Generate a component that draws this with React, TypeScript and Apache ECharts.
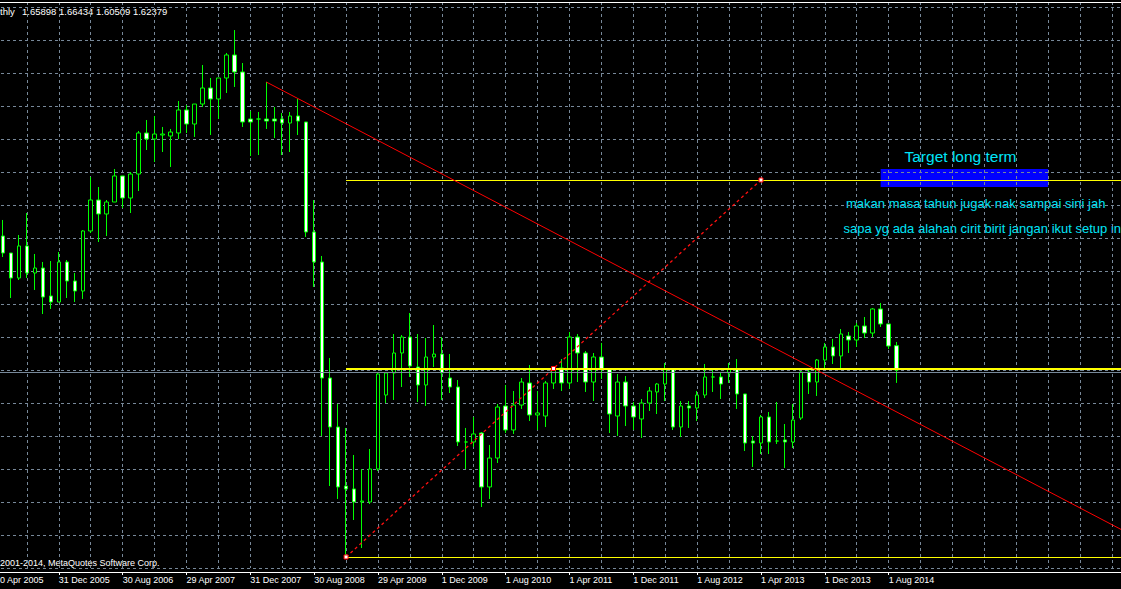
import React, { useEffect, useRef } from "react";
import * as echarts from "echarts";

// ---------- categories (monthly bars), first category is Apr 2005 ----------
const FIRST_YEAR = 2005;
const FIRST_MONTH = 4;
const CATEGORY_COUNT = 143;
const MONTHS: string[] = [];
for (let j = 0; j < CATEGORY_COUNT; j++) {
  const m = FIRST_MONTH - 1 + j;
  const y = FIRST_YEAR + Math.floor(m / 12);
  const mm = (m % 12) + 1;
  MONTHS.push(`${y}-${mm < 10 ? "0" + mm : mm}`);
}

// x-axis labels, one every 8 bars (from the first category)
const TICK_LABELS = [
  "30 Apr 2005", "31 Dec 2005", "30 Aug 2006", "29 Apr 2007", "31 Dec 2007",
  "30 Aug 2008", "29 Apr 2009", "1 Dec 2009", "1 Aug 2010", "1 Apr 2011",
  "1 Dec 2011", "1 Aug 2012", "1 Apr 2013", "1 Dec 2013", "1 Aug 2014",
];

// ---------- GBPUSD monthly candles: May 2005 .. Sep 2014 ----------
const OPEN = [
  1.8177, 1.7931, 1.7569, 1.8033, 1.7642, 1.7714, 1.7309, 1.7222, 1.7801, 1.7526,
  1.7381, 1.8250, 1.8698, 1.8496, 1.8669, 1.9046, 1.8727, 1.9074, 1.9668, 1.9581,
  1.9639, 1.9624, 1.9668, 2.0001, 1.9798, 2.0087, 2.0319, 2.0160, 2.0464, 2.0797,
  2.0551, 1.9870, 1.9870, 1.9870, 1.9870, 1.9870, 1.9812, 1.9914, 1.9827, 1.8235,
  1.7801, 1.6122, 1.5413, 1.4559, 1.4516, 1.4328, 1.4328, 1.4805, 1.5876, 1.6195,
  1.6484, 1.6715, 1.6281, 1.6021, 1.6426, 1.6469, 1.6122, 1.5992, 1.5196, 1.5196,
  1.5326, 1.4545, 1.4964, 1.5717, 1.5370, 1.5731, 1.6050, 1.5587, 1.5572, 1.6050,
  1.6267, 1.6050, 1.6715, 1.6484, 1.6064, 1.6426, 1.6252, 1.5572, 1.6064, 1.5717,
  1.5529, 1.5760, 1.5920, 1.6035, 1.6252, 1.5413, 1.5717, 1.5688, 1.5876, 1.6137,
  1.6137, 1.6195, 1.6252, 1.5891, 1.5210, 1.5181, 1.5558, 1.5210, 1.5225, 1.5196,
  1.5543, 1.6209, 1.6064, 1.6383, 1.6571, 1.6441, 1.6730, 1.6672, 1.6875, 1.6773,
  1.7121, 1.6904, 1.65898,
];
const CLOSE = [
  1.7931, 1.7569, 1.8033, 1.7642, 1.7714, 1.7294, 1.7222, 1.7801, 1.7526, 1.7381,
  1.8250, 1.8698, 1.8496, 1.8669, 1.9046, 1.8727, 1.9074, 1.9668, 1.9581, 1.9653,
  1.9653, 1.9682, 2.0001, 1.9798, 2.0087, 2.0319, 2.0160, 2.0464, 2.0797, 2.0551,
  1.9827, 1.9827, 1.9870, 1.9841, 1.9841, 1.9812, 1.9914, 1.9841, 1.8235, 1.7801,
  1.6122, 1.5413, 1.4545, 1.4516, 1.4328, 1.4342, 1.4805, 1.6180, 1.6195, 1.6484,
  1.6715, 1.6296, 1.6021, 1.6426, 1.6469, 1.6195, 1.5992, 1.5196, 1.5196, 1.5312,
  1.4545, 1.4964, 1.5702, 1.5370, 1.5731, 1.6064, 1.5587, 1.5616, 1.6050, 1.6238,
  1.6050, 1.6715, 1.6484, 1.6064, 1.6426, 1.6252, 1.5601, 1.6064, 1.5717, 1.5558,
  1.5760, 1.5934, 1.6035, 1.6252, 1.5413, 1.5717, 1.5688, 1.5876, 1.6137, 1.6137,
  1.6035, 1.6252, 1.5891, 1.5181, 1.5181, 1.5558, 1.5196, 1.5210, 1.5196, 1.5514,
  1.6209, 1.6064, 1.6383, 1.6571, 1.6441, 1.6759, 1.6672, 1.6875, 1.6773, 1.7121,
  1.6904, 1.6585, 1.62379,
];
const LOW = [
  1.7873, 1.7280, 1.7540, 1.7569, 1.7396, 1.7048, 1.7121, 1.7222, 1.7280, 1.7222,
  1.7265, 1.8221, 1.8090, 1.8177, 1.8669, 1.8582, 1.8510, 1.8828, 1.9422, 1.9248,
  1.9393, 1.9176, 1.9581, 1.9668, 1.9610, 2.0044, 1.9639, 1.9870, 2.0247, 2.0334,
  1.9755, 1.9335, 1.9349, 1.9726, 1.9595, 1.9349, 1.9393, 1.9639, 1.8163, 1.7439,
  1.5283, 1.4559, 1.4371, 1.3532, 1.4067, 1.3662, 1.4299, 1.4776, 1.5760, 1.5804,
  1.5992, 1.6137, 1.5775, 1.5717, 1.6281, 1.5804, 1.5905, 1.5138, 1.4805, 1.5124,
  1.4255, 1.4371, 1.4892, 1.5326, 1.5312, 1.5674, 1.5500, 1.5370, 1.5413, 1.5963,
  1.5934, 1.5963, 1.6064, 1.5920, 1.5789, 1.6108, 1.5326, 1.5283, 1.5427, 1.5370,
  1.5254, 1.5645, 1.5601, 1.5789, 1.5370, 1.5268, 1.5399, 1.5500, 1.5833, 1.5920,
  1.5818, 1.6050, 1.5674, 1.5066, 1.4834, 1.5022, 1.5022, 1.5167, 1.4820, 1.5109,
  1.5514, 1.5891, 1.5862, 1.6238, 1.6325, 1.6252, 1.6484, 1.6571, 1.6701, 1.6715,
  1.6860, 1.6542, 1.60509,
];
const HIGH = [
  1.8409, 1.7931, 1.8192, 1.8510, 1.7917, 1.7801, 1.7815, 1.7946, 1.7830, 1.7642,
  1.8264, 1.9031, 1.8886, 1.8698, 1.9147, 1.9046, 1.9103, 1.9697, 1.9856, 1.9914,
  1.9755, 1.9726, 2.0131, 2.0073, 2.0087, 2.0652, 2.0464, 2.0464, 2.0826, 2.1158,
  2.0681, 1.9986, 1.9972, 2.0406, 2.0044, 1.9957, 1.9972, 2.0160, 1.9827, 1.8698,
  1.7888, 1.6412, 1.5746, 1.5399, 1.5008, 1.4805, 1.5095, 1.6195, 1.6209, 1.6759,
  1.6744, 1.7063, 1.6759, 1.6701, 1.6889, 1.6715, 1.6469, 1.6093, 1.5399, 1.5558,
  1.5341, 1.5153, 1.5746, 1.6021, 1.5934, 1.6122, 1.6310, 1.5934, 1.6079, 1.6296,
  1.6397, 1.6788, 1.6759, 1.6513, 1.6484, 1.6629, 1.6252, 1.6180, 1.6151, 1.5775,
  1.5818, 1.5992, 1.6050, 1.6339, 1.6252, 1.5789, 1.5789, 1.5934, 1.6325, 1.6238,
  1.6195, 1.6339, 1.6397, 1.5891, 1.5283, 1.5587, 1.5630, 1.5775, 1.5456, 1.5746,
  1.6223, 1.6267, 1.6397, 1.6629, 1.6687, 1.6831, 1.6788, 1.6918, 1.7005, 1.7135,
  1.7208, 1.6904, 1.66434,
];
const CANDLE_MONTHS = MONTHS.slice(1, 1 + OPEN.length);

// ---------- drawn objects ----------
const BID_PRICE = 1.62379;
const DOWN_TREND: [string, number][] = [["2008-02", 2.0406], ["2017-02", 1.3878]];
const UP_TREND: [string, number][] = [["2008-12", 1.3532], ["2013-04", 1.8988]];
const UP_TREND_ANCHORS: [string, number][] = [["2008-12", 1.3532], ["2011-02", 1.626], ["2013-04", 1.8988]];
const LEVEL_START = "2008-12";
const LEVEL_END = "2017-02";
const LEVELS = [1.8988, 1.6262, 1.3532];
const LEVEL_WIDTHS = [1, 2, 1];
const TARGET_ZONE: [string, number][] = [["2014-07", 1.9147], ["2016-04", 1.8886]];

// price axis: 33 px per grid step
const Y_STEP = BID_PRICE / 34;
const Y_MIN = Y_STEP * 28;
const Y_MAX = Y_STEP * (28 + 566 / 33);

const GRID_COLOR = "#778899";
const CANDLE_GREEN = "#00ff00";
const CYAN = "#00e4f8";
const FONT = '"Liberation Sans", Arial, sans-serif';

// the chart's box starts 8px left of the page (the first category sits off-screen)
const SHIFT = 8;
const CHART_W = 1137;
const CHART_H = 589;

export default function App() {
  const ref = useRef<HTMLDivElement>(null);

  useEffect(() => {
    document.documentElement.style.overflow = "hidden";
    document.body.style.margin = "0";
    document.body.style.overflow = "hidden";
    document.body.style.background = "#000";
    if (!ref.current) return;
    const chart = echarts.init(ref.current, undefined, { renderer: "svg" });

    const labelShown = (idx: number) => idx % 8 === 0 && idx / 8 < TICK_LABELS.length;

    const candleData = CANDLE_MONTHS.map((m, i) => [m, OPEN[i], CLOSE[i], LOW[i], HIGH[i]]);

    const levelLines = LEVELS.map((v, k) => [
      { coord: [LEVEL_START, v], lineStyle: { color: "#ffff00", width: LEVEL_WIDTHS[k], type: "solid" } },
      { coord: [LEVEL_END, v] },
    ]);

    const txt = (text: string, x: number, y: number, size: number, fill: string, align = "left") => ({
      type: "text",
      x: x + SHIFT,
      y,
      style: { text, fill, fontSize: size, fontFamily: FONT, align, verticalAlign: "middle" },
    });

    const option: any = {
      animation: false,
      backgroundColor: "#000000",
      grid: { left: 0, right: 1, top: 2, bottom: 21, containLabel: false },
      xAxis: [
        {
          type: "category",
          data: MONTHS,
          boundaryGap: false,
          offset: 4,
          z: 1,
          axisLine: { show: true, lineStyle: { color: "#ffffff", width: 1 } },
          axisTick: { show: true, interval: labelShown, length: 3, lineStyle: { color: "#ffffff" } },
          axisLabel: {
            show: true,
            interval: labelShown,
            formatter: (_v: string, idx: number) => TICK_LABELS[idx / 8] ?? "",
            color: "#ffffff",
            fontSize: 9,
            fontFamily: FONT,
            align: "left",
            margin: 3,
          },
          splitLine: {
            show: true,
            interval: (idx: number) => idx % 4 === 0,
            lineStyle: { color: GRID_COLOR, type: [3, 3], width: 1 },
          },
        },
        {
          type: "category",
          data: MONTHS,
          boundaryGap: false,
          position: "top",
          z: 3,
          axisLine: { show: true, lineStyle: { color: "#ffffff", width: 1 } },
          axisTick: { show: false },
          axisLabel: { show: false },
          splitLine: { show: false },
        },
      ],
      yAxis: {
        type: "value",
        min: Y_MIN,
        max: Y_MAX,
        interval: Y_STEP,
        z: 1,
        axisLine: { show: false },
        axisTick: { show: false },
        axisLabel: { show: false },
        splitLine: { show: true, lineStyle: { color: GRID_COLOR, type: [3, 3], width: 1 } },
      },
      series: [
        {
          type: "candlestick",
          data: candleData,
          encode: { x: 0, y: [1, 2, 3, 4] },
          barWidth: 4,
          z: 2,
          itemStyle: {
            color: "#000000",
            color0: "#ffffff",
            borderColor: CANDLE_GREEN,
            borderColor0: CANDLE_GREEN,
            borderWidth: 1,
          },
          markArea: {
            z: 0,
            silent: true,
            itemStyle: { color: "#0000ff", opacity: 1 },
            label: { show: false },
            data: [[{ coord: TARGET_ZONE[0] }, { coord: TARGET_ZONE[1] }]],
          },
          markLine: {
            silent: true,
            symbol: ["none", "none"],
            label: { show: false },
            data: [
              { yAxis: BID_PRICE, lineStyle: { color: GRID_COLOR, width: 1, type: "solid" } },
              ...levelLines,
              [
                { coord: DOWN_TREND[0], lineStyle: { color: "#ff0000", width: 1, type: "solid" } },
                { coord: DOWN_TREND[1] },
              ],
              [
                { coord: UP_TREND[0], lineStyle: { color: "#ff1010", width: 1.3, type: [3, 3] } },
                { coord: UP_TREND[1] },
              ],
            ],
          },
        },
        {
          type: "scatter",
          data: UP_TREND_ANCHORS,
          symbol: "rect",
          symbolSize: 4,
          z: 6,
          itemStyle: { color: "#ffffff", borderColor: "#ff0000", borderWidth: 1, opacity: 1 },
          silent: true,
        },
      ],
      graphic: [
        txt("thly", 0, 11, 9.5, "#ffffff"),
        txt("1.65898 1.66434 1.60509 1.62379", 22, 11, 9.5, "#ffffff"),
        txt("2001-2014, MetaQuotes Software Corp.", 0, 563, 9, "#ffffff"),
        txt("Target long term", 960.5, 156, 15.5, CYAN, "center"),
        txt("makan masa tahun jugak nak sampai sini jah", 846, 203.5, 13, CYAN),
        txt("sapa yg ada alahan cirit birit jangan ikut setup ini", 843.5, 228, 13, CYAN),
      ],
    };

    chart.setOption(option);
    return () => chart.dispose();
  }, []);

  return (
    <div
      ref={ref}
      style={{ position: "absolute", left: -SHIFT, top: 0, width: CHART_W, height: CHART_H, background: "#000" }}
    />
  );
}
